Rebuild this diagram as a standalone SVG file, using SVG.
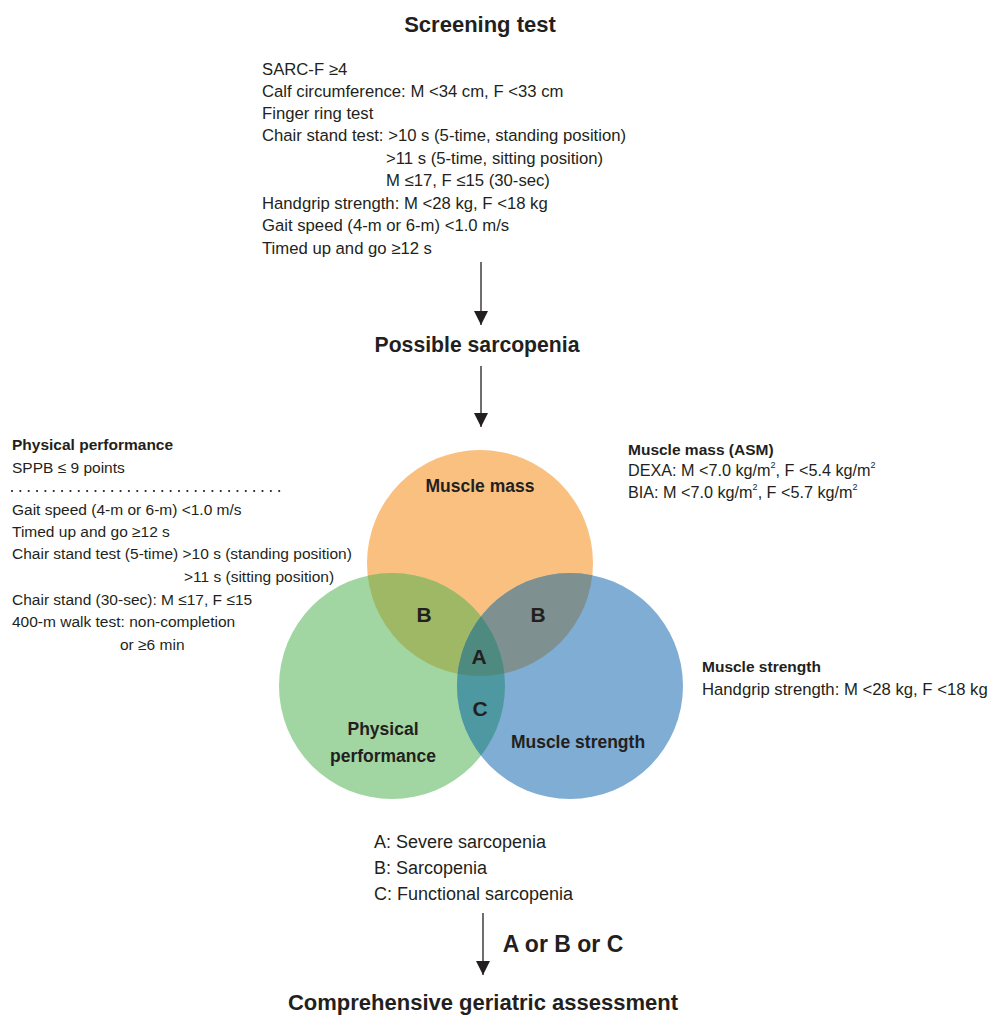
<svg xmlns="http://www.w3.org/2000/svg" width="990" height="1016" viewBox="0 0 990 1016">
<style>
text{font-family:"Liberation Sans",Arial,sans-serif;fill:#231f20;}
.t{font-size:15.5px;}
.t2{font-size:16.7px;}
.lg{font-size:18px;}
.h{font-size:15.5px;font-weight:bold;}
.title{font-size:22px;font-weight:bold;text-anchor:middle;}
.lbl{font-size:17.5px;font-weight:bold;text-anchor:middle;}
.big{font-size:21px;font-weight:bold;text-anchor:middle;}
.ln{stroke:#231f20;stroke-width:1.3;fill:none;}
</style>
<defs>
<marker id="ah" viewBox="0 0 14 14" refX="14" refY="7" markerWidth="14" markerHeight="14" markerUnits="userSpaceOnUse" orient="auto">
<path d="M0,0 L14,7 L0,14 Z" fill="#231f20"/>
</marker>
<clipPath id="cm"><circle cx="480" cy="563" r="113"/></clipPath>
<clipPath id="cg"><circle cx="392" cy="686" r="113"/></clipPath>
<clipPath id="cb"><circle cx="570" cy="686" r="113"/></clipPath>
</defs>

<g id="screening">
<text class="title" x="480" y="32">Screening test</text>
<text class="t2" x="262" y="75">SARC-F ≥4</text>
<text class="t2" x="262" y="97">Calf circumference: M &lt;34 cm, F &lt;33 cm</text>
<text class="t2" x="262" y="119">Finger ring test</text>
<text class="t2" x="262" y="141">Chair stand test: &gt;10 s (5-time, standing position)</text>
<text class="t2" x="386" y="164">&gt;11 s (5-time, sitting position)</text>
<text class="t2" x="386" y="186">M ≤17, F ≤15 (30-sec)</text>
<text class="t2" x="262" y="209">Handgrip strength: M &lt;28 kg, F &lt;18 kg</text>
<text class="t2" x="262" y="231">Gait speed (4-m or 6-m) &lt;1.0 m/s</text>
<text class="t2" x="262" y="254">Timed up and go ≥12 s</text>
</g>

<g id="possible">
<text class="title" x="477" y="352" style="font-size:21.2px">Possible sarcopenia</text>
</g>

<g id="venn">
<circle cx="480" cy="563" r="113" fill="#f9c080"/>
<circle cx="392" cy="686" r="113" fill="#a1d5a2"/>
<circle cx="570" cy="686" r="113" fill="#7fadd4"/>
<g clip-path="url(#cm)"><circle cx="392" cy="686" r="113" fill="#9fb865"/><circle cx="570" cy="686" r="113" fill="#7e9190"/></g>
<g clip-path="url(#cg)"><circle cx="570" cy="686" r="113" fill="#4e99a1"/></g>
<g clip-path="url(#cm)"><g clip-path="url(#cg)"><circle cx="570" cy="686" r="113" fill="#4e8a80"/></g></g>
</g>

<g id="muscle-mass">
<text class="lbl" x="480" y="492">Muscle mass</text>
</g>
<g id="physical-performance">
<text class="lbl" x="383" y="735">Physical</text>
<text class="lbl" x="383" y="762">performance</text>
</g>
<g id="muscle-strength">
<text class="lbl" x="578" y="748">Muscle strength</text>
</g>
<g id="region-labels">
<text class="big" x="424" y="622">B</text>
<text class="big" x="538" y="622">B</text>
<text class="big" x="479" y="664">A</text>
<text class="big" x="480" y="716">C</text>
</g>

<g id="pp-criteria">
<text class="h" x="12" y="450">Physical performance</text>
<text class="t" x="12" y="473">SPPB ≤ 9 points</text>
<line x1="12" y1="491" x2="281" y2="491" stroke="#231f20" stroke-width="2.2" stroke-linecap="round" stroke-dasharray="0 8.35"/>
<text class="t" x="12" y="515">Gait speed (4-m or 6-m) &lt;1.0 m/s</text>
<text class="t" x="12" y="537">Timed up and go ≥12 s</text>
<text class="t" x="12" y="559">Chair stand test (5-time) &gt;10 s (standing position)</text>
<text class="t" x="184" y="582">&gt;11 s (sitting position)</text>
<text class="t" x="12" y="605">Chair stand (30-sec): M ≤17, F ≤15</text>
<text class="t" x="12" y="627">400-m walk test: non-completion</text>
<text class="t" x="120" y="650">or ≥6 min</text>
</g>

<g id="mm-criteria">
<text class="h" x="628" y="455">Muscle mass (ASM)</text>
<text class="t" x="628" y="476" style="font-size:16.2px">DEXA: M &lt;7.0 kg/m<tspan font-size="9" dy="-8">2</tspan><tspan dy="8">, F &lt;5.4 kg/m</tspan><tspan font-size="9" dy="-8">2</tspan></text>
<text class="t" x="628" y="498" style="font-size:16.2px">BIA: M &lt;7.0 kg/m<tspan font-size="9" dy="-8">2</tspan><tspan dy="8">, F &lt;5.7 kg/m</tspan><tspan font-size="9" dy="-8">2</tspan></text>
</g>

<g id="ms-criteria">
<text class="h" x="702" y="672">Muscle strength</text>
<text class="t2" x="702" y="695">Handgrip strength: M &lt;28 kg, F &lt;18 kg</text>
</g>

<g id="legend">
<text class="lg" x="374" y="848">A: Severe sarcopenia</text>
<text class="lg" x="374" y="874">B: Sarcopenia</text>
<text class="lg" x="374" y="900">C: Functional sarcopenia</text>
</g>

<g id="cga">
<text class="title" x="483" y="1010">Comprehensive geriatric assessment</text>
</g>

<g id="connectors">
<line class="ln" x1="481" y1="262" x2="481" y2="325" marker-end="url(#ah)"/>
<line class="ln" x1="481" y1="366" x2="481" y2="427" marker-end="url(#ah)"/>
<line class="ln" x1="483" y1="913" x2="483" y2="975" marker-end="url(#ah)"/>
<text class="big" x="563" y="952" style="font-size:23px">A or B or C</text>
</g>
</svg>
